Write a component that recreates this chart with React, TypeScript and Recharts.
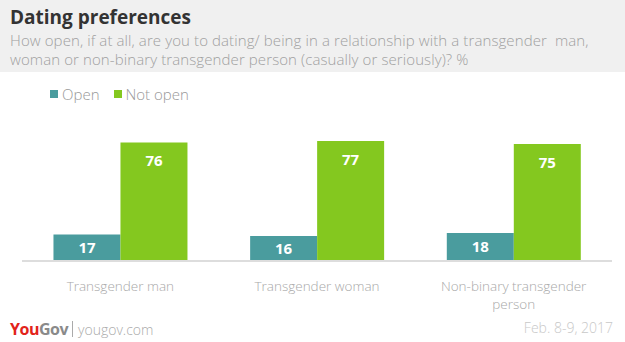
import React from "react";
import { BarChart, Bar, XAxis, YAxis, Legend, LabelList } from "recharts";

const categories = ["Transgender man", "Transgender woman", "Non-binary transgender person"];
const openValues = [17, 16, 18];
const notOpenValues = [76, 77, 75];
const seriesNames = ["Open", "Not open"];

const TEAL = "#4a9c9e";
const GREEN = "#84c81f";
const FONT = "'Open Sans', 'Lato', sans-serif";

const data = categories.map((c, i) => ({
  name: c,
  open: openValues[i],
  notOpen: notOpenValues[i],
}));

const wrapLabel = (s: string): string[] => {
  if (s.length <= 20) return [s];
  const words = s.split(" ");
  const lines: string[] = [];
  let cur = "";
  for (const w of words) {
    const next = cur ? cur + " " + w : w;
    if (next.length > 22 && cur) {
      lines.push(cur);
      cur = w;
    } else cur = next;
  }
  if (cur) lines.push(cur);
  return lines;
};

const CategoryTick = (props: any) => {
  const { x, y, payload } = props;
  const lines = wrapLabel(String(payload.value));
  return (
    <g>
      {lines.map((l, i) => (
        <text
          key={i}
          x={x}
          y={y + 22 + i * 18}
          textAnchor="middle"
          fill="#a8a8a8"
          fontSize={13.5}
          fontFamily={FONT}
          fontWeight={300}
        >
          {l}
        </text>
      ))}
    </g>
  );
};

const ValueLabel = (props: any) => {
  const { x, y, width, height, value } = props;
  const cy = height < 45 ? y + height / 2 + 5 : y + 24;
  return (
    <text
      x={x + width / 2}
      y={cy}
      textAnchor="middle"
      fill="#ffffff"
      fontSize={15}
      fontWeight={700}
      fontFamily={FONT}
    >
      {value}
    </text>
  );
};

const LegendContent = () => (
  <div style={{ display: "flex", alignItems: "center", fontFamily: FONT, fontSize: 15, color: "#999", fontWeight: 300 }}>
    {seriesNames.map((n, i) => (
      <div key={n} style={{ display: "flex", alignItems: "center", marginRight: 14 }}>
        <span style={{ width: 8, height: 8, background: i === 0 ? TEAL : GREEN, display: "inline-block", marginRight: 4 }} />
        <span>{n}</span>
      </div>
    ))}
  </div>
);

export default function App() {
  return (
    <div style={{ position: "absolute", left: 0, top: 0, width: 625, height: 342, background: "#fff", overflow: "hidden", fontFamily: FONT }}>
      <div style={{ position: "absolute", left: 0, top: 0, width: 625, height: 72, background: "#f0f0f0" }} />
      <div style={{ position: "absolute", left: 10, top: 4, fontSize: 19, fontWeight: 700, color: "#333", whiteSpace: "nowrap" }}>
        Dating preferences
      </div>
      <div style={{ position: "absolute", left: 10, top: 31, fontSize: 15, lineHeight: "19px", color: "#a0a0a0", fontWeight: 300, whiteSpace: "nowrap", letterSpacing: 0.1 }}>
        <div>How open, if at all, are you to dating/ being in a relationship with a transgender&nbsp; man,</div>
        <div>woman or non-binary transgender person (casually or seriously)? %</div>
      </div>
      <div style={{ position: "absolute", left: 0, top: 0 }}>
        <BarChart
          width={625}
          height={342}
          data={data}
          margin={{ top: 105, right: 13, bottom: 0, left: 22 }}
          barCategoryGap="16%"
          barGap={0}
        >
          <XAxis
            dataKey="name"
            axisLine={{ stroke: "#dddddd", strokeWidth: 2 }}
            tickLine={false}
            tick={<CategoryTick />}
            interval={0}
            height={81}
          />
          <YAxis hide domain={[0, 100]} width={0} />
          <Legend
            verticalAlign="middle"
            align="center"
            layout="horizontal"
            wrapperStyle={{ top: 84, left: 50, width: 300 }}
            content={<LegendContent />}
          />
          <Bar dataKey="open" name={seriesNames[0]} fill={TEAL} isAnimationActive={false}>
            <LabelList dataKey="open" content={<ValueLabel />} />
          </Bar>
          <Bar dataKey="notOpen" name={seriesNames[1]} fill={GREEN} isAnimationActive={false}>
            <LabelList dataKey="notOpen" content={<ValueLabel />} />
          </Bar>
        </BarChart>
      </div>
      <div style={{ position: "absolute", left: 10, top: 318, display: "flex", alignItems: "center", whiteSpace: "nowrap" }}>
        <span style={{ fontSize: 16, fontWeight: 700, letterSpacing: -0.5 }}>
          <span style={{ color: "#e2231a" }}>You</span>
          <span style={{ color: "#8a8a8a" }}>Gov</span>
        </span>
        <span style={{ display: "inline-block", width: 1, height: 16, background: "#aaa", margin: "0 5px 0 4px" }} />
        <span style={{ fontSize: 14, color: "#aaa", fontWeight: 300 }}>yougov.com</span>
      </div>
      <div style={{ position: "absolute", right: 12, top: 318, fontSize: 14, color: "#c8c8c8", fontWeight: 300, whiteSpace: "nowrap" }}>
        Feb. 8-9, 2017
      </div>
    </div>
  );
}
